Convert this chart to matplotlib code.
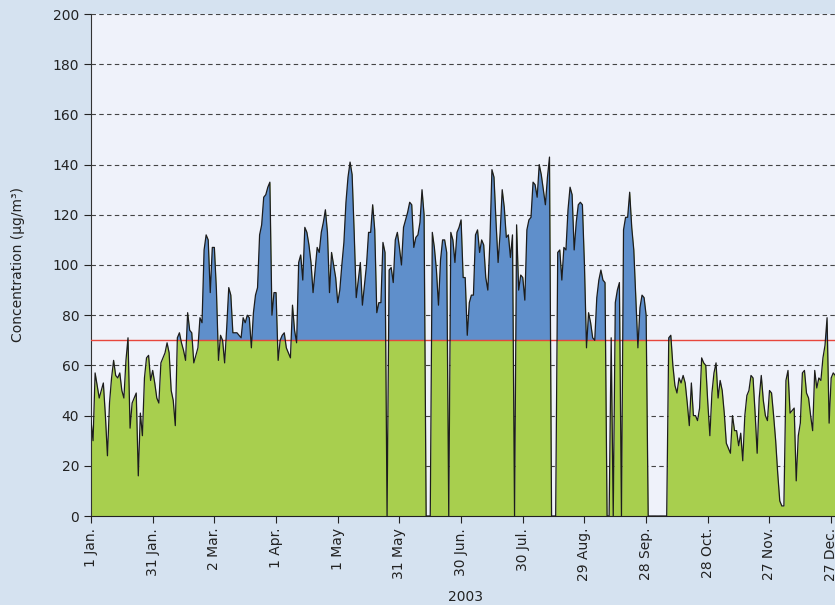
import numpy as np
import matplotlib.pyplot as plt

# Daily concentrations 2003 (ug/m3), 0 = missing day
jan = [38, 30, 57, 52, 47, 50, 53, 40, 24, 45, 55, 62, 56, 55, 57, 50, 47, 62, 71, 35, 45, 47, 49, 16, 41, 32, 55, 63, 64, 54, 58]
feb = [53, 47, 45, 61, 63, 65, 69, 65, 50, 46, 36, 71, 73, 69, 66, 62, 81, 74, 73, 61, 64, 67, 79, 77, 106, 112, 110, 89]
mar = [107, 107, 90, 62, 72, 70, 61, 75, 91, 88, 73, 73, 73, 72, 71, 79, 77, 80, 79, 67, 81, 88, 91, 112, 116, 127, 128, 131, 133, 80, 89]
apr = [89, 62, 70, 72, 73, 67, 65, 63, 84, 74, 69, 101, 104, 94, 115, 113, 108, 101, 89, 98, 107, 105, 113, 117, 122, 113, 89, 105, 100, 95]
may = [85, 90, 100, 109, 125, 135, 141, 136, 113, 87, 94, 101, 84, 92, 100, 113, 113, 124, 114, 81, 85, 85, 109, 105, 0, 98, 99, 93, 110, 113, 107]
jun = [100, 115, 118, 121, 125, 124, 107, 111, 112, 117, 130, 120, 0, 0, 0, 113, 107, 98, 84, 102, 110, 110, 105, 0, 113, 110, 101, 113, 115, 118]
jul = [95, 95, 72, 85, 88, 88, 112, 114, 105, 110, 108, 95, 90, 109, 138, 135, 117, 101, 113, 130, 123, 111, 112, 103, 112, 0, 116, 90, 96, 95, 86]
aug = [114, 118, 119, 133, 132, 127, 140, 136, 130, 124, 135, 143, 0, 0, 0, 105, 106, 94, 107, 106, 122, 131, 128, 106, 117, 124, 125, 124, 100, 67, 81]
sep = [77, 71, 70, 87, 94, 98, 94, 93, 0, 0, 71, 0, 85, 90, 93, 0, 114, 119, 119, 129, 115, 106, 87, 67, 83, 88, 87, 80, 0, 0]
oct_ = [0, 0, 0, 0, 0, 0, 0, 0, 71, 72, 60, 52, 49, 55, 53, 56, 53, 45, 36, 53, 40, 40, 38, 43, 63, 61, 60, 45, 32, 49, 57]
nov = [61, 47, 54, 50, 41, 29, 27, 25, 40, 34, 34, 28, 33, 22, 40, 48, 50, 56, 55, 41, 25, 47, 56, 46, 40, 38, 50, 49, 40, 30]
dec = [17, 6, 4, 4, 54, 58, 41, 42, 43, 14, 32, 37, 57, 58, 49, 47, 40, 34, 58, 51, 55, 54, 63, 68, 79, 37, 55, 57, 56, 50, 52]

limit = 70
tick_days = [0, 30, 60, 90, 120, 150, 180, 210, 240, 270, 300, 330, 360]
tick_labels = ['1 Jan.', '31 Jan.', '2 Mar.', '1 Apr.', '1 May', '31 May', '30 Jun.',
               '30 Jul.', '29 Aug.', '28 Sep.', '28 Oct.', '27 Nov.', '27 Dec.']

conc = np.array(jan + feb + mar + apr + may + jun + jul + aug + sep + oct_ + nov + dec, dtype=float)
days = np.arange(len(conc))

outerColor = '#d5e2f0'
innerColor = '#eff2fa'
greenColor = '#a8cf4e'
blueColor = '#5f8fcb'

fig = plt.figure(figsize=(8.35, 6.05), dpi=100, facecolor=outerColor)
ax = fig.add_axes([91 / 835, 89 / 605, 748.4 / 835, 502 / 605])
ax.set_facecolor(innerColor)

ax.fill_between(days, 0, conc, color=greenColor, lw=0, zorder=2)
ax.fill_between(days, limit, conc, where=conc > limit, interpolate=True, color=blueColor, lw=0, zorder=3)
ax.axhline(limit, color='#e8463c', lw=1.0, zorder=4)
ax.plot(days, conc, color='#1c1c1c', lw=0.9, zorder=5)

ax.set_xlim(0, 364)
ax.set_ylim(0, 200)
ax.set_yticks(range(0, 201, 20))
ax.set_xticks(tick_days)
ax.set_xticklabels(tick_labels, rotation=90)
ax.tick_params(axis='both', labelsize=10, colors='#222222', length=5, width=0.8)
ax.yaxis.grid(True, linestyle=(0, (4, 3)), color='#444444', lw=0.8, zorder=1)
ax.set_axisbelow(True)

for side in ['top', 'right']:
    ax.spines[side].set_visible(False)
ax.spines['left'].set_color('#333333')
ax.spines['bottom'].set_color('#222222')
ax.spines['bottom'].set_zorder(6)

ax.set_ylabel('Concentration (µg/m³)', fontsize=10, color='#222222', labelpad=20)
ax.set_xlabel('2003', fontsize=10, color='#222222', labelpad=6)

fig.savefig('out.png', dpi=100, facecolor=outerColor)
